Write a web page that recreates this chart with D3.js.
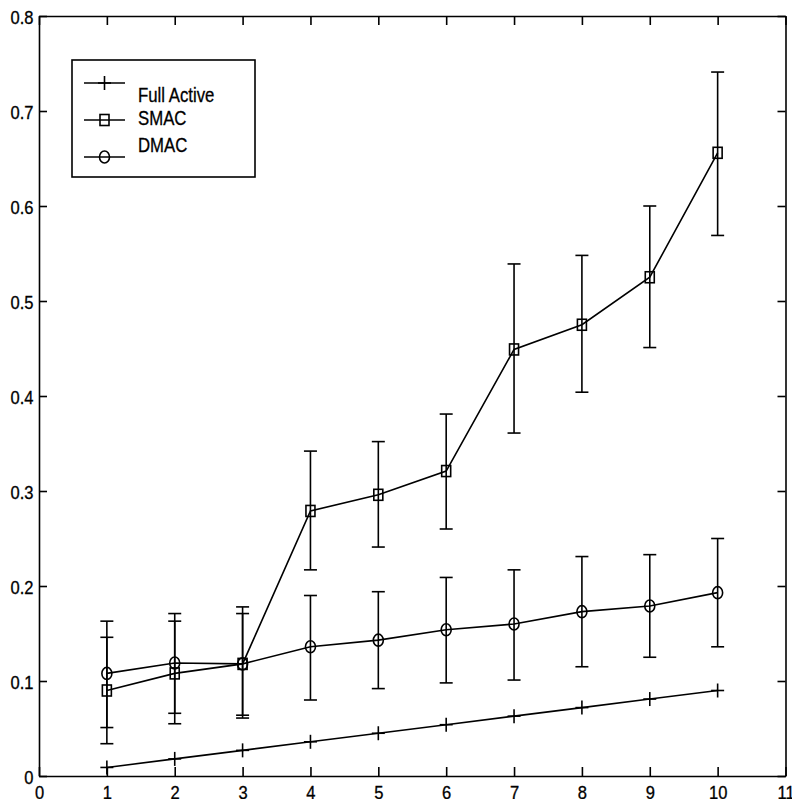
<!DOCTYPE html>
<html>
<head>
<meta charset="utf-8">
<script src="https://cdn.jsdelivr.net/npm/d3@7"></script>
<style>
  body { margin: 0; background: #fff; }
  svg { display: block; }
  text { font-family: "Liberation Sans", Arial, sans-serif; fill: #000; stroke: #000; stroke-width: 0.3px; }
</style>
</head>
<body>
<div id="chart"></div>
<script>
// data
var xs = [1, 2, 3, 4, 5, 6, 7, 8, 9, 10];
var fullActive = [0.009, 0.018, 0.027, 0.036, 0.045, 0.054, 0.063, 0.072, 0.081, 0.090];
var smac     = [0.090, 0.108, 0.118, 0.279, 0.296, 0.321, 0.449, 0.475, 0.525, 0.656];
var smacLow  = [0.034, 0.055, 0.061, 0.217, 0.241, 0.260, 0.361, 0.404, 0.451, 0.569];
var smacHigh = [0.146, 0.163, 0.171, 0.342, 0.352, 0.381, 0.539, 0.548, 0.600, 0.741];
var dmac     = [0.108, 0.119, 0.118, 0.136, 0.143, 0.154, 0.160, 0.173, 0.179, 0.193];
var dmacLow  = [0.051, 0.066, 0.064, 0.080, 0.092, 0.098, 0.101, 0.115, 0.125, 0.136];
var dmacHigh = [0.163, 0.171, 0.178, 0.190, 0.194, 0.209, 0.217, 0.231, 0.233, 0.250];
var legendLabels = ["Full Active", "SMAC", "DMAC"];
var xTicks = [0, 1, 2, 3, 4, 5, 6, 7, 8, 9, 10, 11];
var yTicks = [0, 0.1, 0.2, 0.3, 0.4, 0.5, 0.6, 0.7, 0.8];

var width = 792, height = 799;
var margin = {top: 16, right: 6.5, bottom: 23, left: 39};
var sw = 1.6;

var svg = d3.select("#chart")
  .append("svg")
    .attr("width", width)
    .attr("height", height);

var x = d3.scaleLinear()
    .domain([0, 11])
    .range([margin.left, width - margin.right]);

var y = d3.scaleLinear()
    .domain([0, 0.8])
    .range([height - margin.bottom, margin.top]);

var fmt = function(d) { return d === 0 ? "0" : d3.format(".1f")(d); };

// axes, ticks pointing inward like matlab
function styleAxis(g) {
  g.selectAll("path, line").attr("stroke", "#000").attr("stroke-width", sw);
  g.selectAll("text")
    .attr("font-size", "18px")
    .attr("font-family", "'Liberation Sans', Arial, sans-serif")
    .attr("fill", "#000");
}

svg.append("g")
  .attr("transform", `translate(0,${y(0)})`)
  .call(d3.axisBottom(x).tickValues(xTicks).tickSize(-9).tickSizeOuter(0).tickPadding(10).tickFormat(d3.format("d")))
  .call(styleAxis)
  .call(g => g.selectAll("text").attr("transform", "scale(0.92,1)"));

svg.append("g")
  .attr("transform", `translate(0,${y(0.8)})`)
  .call(d3.axisTop(x).tickValues(xTicks).tickSize(-9).tickSizeOuter(0).tickFormat(""))
  .call(styleAxis);

svg.append("g")
  .attr("transform", `translate(${x(0)},0)`)
  .call(d3.axisLeft(y).tickValues(yTicks).tickSize(-8).tickSizeOuter(0).tickPadding(6).tickFormat(fmt))
  .call(styleAxis)
  .call(g => g.selectAll("text").attr("dy", "0.42em").attr("transform", "scale(0.92,1)"));

svg.append("g")
  .attr("transform", `translate(${x(11)},0)`)
  .call(d3.axisRight(y).tickValues(yTicks).tickSize(-8).tickSizeOuter(0).tickFormat(""))
  .call(styleAxis);

var line = d3.line()
  .x(d => x(d[0]))
  .y(d => y(d[1]));

var plot = svg.append("g")
  .attr("fill", "none")
  .attr("stroke", "#000")
  .attr("stroke-width", sw);

// error bars
function errorBars(vals, lows, highs) {
  var capW = 6.5;
  var g = plot.append("g");
  xs.forEach(function(xv, i) {
    g.append("line")
      .attr("x1", x(xv)).attr("x2", x(xv))
      .attr("y1", y(lows[i])).attr("y2", y(highs[i]));
    [lows[i], highs[i]].forEach(function(v) {
      g.append("line")
        .attr("x1", x(xv) - capW).attr("x2", x(xv) + capW)
        .attr("y1", y(v)).attr("y2", y(v));
    });
  });
}
errorBars(smac, smacLow, smacHigh);
errorBars(dmac, dmacLow, dmacHigh);

// lines
[fullActive, smac, dmac].forEach(function(vals) {
  plot.append("path")
    .datum(xs.map((xv, i) => [xv, vals[i]]))
    .attr("d", line);
});

// marker shapes
function plus(g, cx, cy) {
  g.append("line").attr("x1", cx - 6.5).attr("x2", cx + 6.5).attr("y1", cy).attr("y2", cy);
  g.append("line").attr("x1", cx).attr("x2", cx).attr("y1", cy - 7).attr("y2", cy + 7);
}
function square(g, cx, cy) {
  g.append("rect").attr("x", cx - 4.5).attr("y", cy - 5.5).attr("width", 9).attr("height", 11);
}
function circle(g, cx, cy) {
  g.append("ellipse").attr("cx", cx).attr("cy", cy).attr("rx", 5).attr("ry", 6);
}

var markers = [plus, square, circle];
[fullActive, smac, dmac].forEach(function(vals, k) {
  var g = plot.append("g");
  xs.forEach(function(xv, i) { markers[k](g, x(xv), y(vals[i])); });
});

// legend
var legend = svg.append("g");
legend.append("rect")
  .attr("x", 72).attr("y", 60)
  .attr("width", 183).attr("height", 117)
  .attr("fill", "#fff")
  .attr("stroke", "#000")
  .attr("stroke-width", sw);

var legLineY = [83, 120, 157];
var legTextY = [102, 125, 152];
legendLabels.forEach(function(lbl, k) {
  var g = legend.append("g")
    .attr("fill", "none")
    .attr("stroke", "#000")
    .attr("stroke-width", sw);
  g.append("line")
    .attr("x1", 84).attr("x2", 125)
    .attr("y1", legLineY[k]).attr("y2", legLineY[k]);
  markers[k](g, 104.5, legLineY[k]);
  legend.append("text")
    .attr("transform", `translate(138,${legTextY[k]}) scale(0.86,1)`)
    .attr("font-size", "19.5px")
    .text(lbl);
});
</script>
</body>
</html>
